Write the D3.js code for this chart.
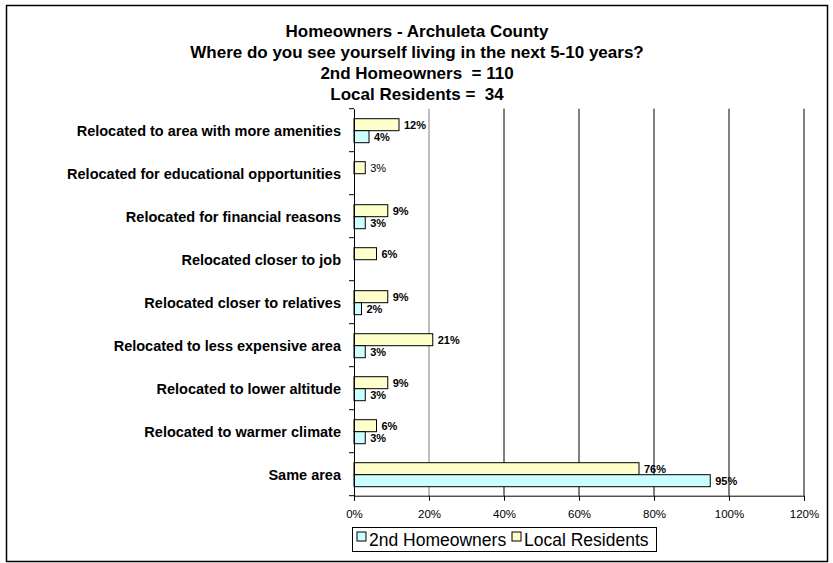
<!DOCTYPE html>
<html>
<head>
<meta charset="utf-8">
<script src="https://cdn.jsdelivr.net/npm/d3@7"></script>
<style>
  body { margin: 0; background: #fff; }
  svg { font-family: Arial, "Liberation Sans", sans-serif; }
</style>
</head>
<body>
<div id="chart"></div>
<script>
// Données du graphique
const categories = [
    'Relocated to area with more amenities',
    'Relocated for educational opportunities',
    'Relocated for financial reasons',
    'Relocated closer to job',
    'Relocated closer to relatives',
    'Relocated to less expensive area',
    'Relocated to lower altitude',
    'Relocated to warmer climate',
    'Same area'
];
const secondHomeowners = [4, 0, 3, 0, 2, 3, 3, 3, 95];
const localResidents = [12, 3, 9, 6, 9, 21, 9, 6, 76];
const xTicks = [0, 20, 40, 60, 80, 100, 120];
const titleLines = [
    'Homeowners - Archuleta County',
    'Where do you see yourself living in the next 5-10 years?',
    '2nd Homeowners  = 110',
    'Local Residents =  34'
];
const seriesNames = ['2nd Homeowners', 'Local Residents'];

const width = 833, height = 563;
const margin = { top: 108.7, right: 29, bottom: 67.3, left: 354 };
const colors = { local: '#FFFFCC', second: '#CCFFFF' };

const svg = d3.select('#chart').append('svg')
    .attr('width', width)
    .attr('height', height);

// Cadre extérieur
svg.append('rect')
    .attr('x', 6.5).attr('y', 5.5)
    .attr('width', 821).attr('height', 556)
    .attr('fill', '#fff')
    .attr('stroke', '#000')
    .attr('stroke-width', 1.5);

// Titre
svg.append('g').selectAll('text')
    .data(titleLines)
    .enter().append('text')
    .attr('x', 417)
    .attr('y', (d, i) => 36.7 + i * 21.1)
    .attr('text-anchor', 'middle')
    .style('font-size', '17px')
    .style('font-weight', 'bold')
    .style('white-space', 'pre')
    .text(d => d);

// Échelles
const x = d3.scaleLinear()
    .domain([0, 120])
    .range([margin.left, width - margin.right]);

const y = d3.scaleBand()
    .domain(categories)
    .range([margin.top, height - margin.bottom]);

const inner = d3.scaleBand()
    .domain(['local', 'second'])
    .range([0, 24]);

// Grille verticale
svg.append('g')
    .selectAll('line')
    .data(xTicks.filter(t => t > 0))
    .enter().append('line')
    .attr('x1', d => x(d)).attr('x2', d => x(d))
    .attr('y1', margin.top).attr('y2', height - margin.bottom)
    .attr('stroke', d => d === 20 ? '#808080' : '#000')
    .attr('stroke-width', 1);

// Barres
const groupOffset = (y.bandwidth() - 24) / 2 + 0.5;
const series = [
    { key: 'local', values: localResidents },
    { key: 'second', values: secondHomeowners }
];

const plainLabels = new Set(['Relocated for educational opportunities']);

series.forEach(s => {
    const rows = categories.map((c, i) => ({ cat: c, v: s.values[i] })).filter(d => d.v > 0);
    const g = svg.append('g');
    g.selectAll('rect')
        .data(rows)
        .enter().append('rect')
        .attr('x', x(0))
        .attr('y', d => y(d.cat) + groupOffset + inner(s.key))
        .attr('width', d => x(d.v) - x(0))
        .attr('height', inner.bandwidth())
        .attr('fill', colors[s.key])
        .attr('stroke', '#000')
        .attr('stroke-width', 1);

    g.selectAll('text')
        .data(rows)
        .enter().append('text')
        .attr('x', d => x(d.v) + 5)
        .attr('y', d => y(d.cat) + groupOffset + inner(s.key) + inner.bandwidth() / 2)
        .attr('dy', '0.36em')
        .style('font-size', '11px')
        .style('font-weight', d => plainLabels.has(d.cat) ? 'normal' : 'bold')
        .text(d => d.v + '%');
});

// Axe X
const xAxis = svg.append('g')
    .attr('transform', `translate(0,${height - margin.bottom})`)
    .call(d3.axisBottom(x).tickValues(xTicks).tickFormat(d => d + '%').tickSize(5).tickPadding(9));
xAxis.select('.domain').attr('stroke', '#000');
xAxis.selectAll('text').style('font-size', '11.5px').attr('fill', '#000');

// Axe Y
const yAxis = svg.append('g')
    .attr('transform', `translate(${margin.left},0)`)
    .call(d3.axisLeft(y).tickSize(0).tickPadding(13));
yAxis.select('.domain').attr('stroke', '#000');
yAxis.selectAll('text')
    .attr('dy', '0.42em')
    .style('font-size', '14.5px')
    .style('font-weight', 'bold')
    .attr('fill', '#000');

// Petits traits entre catégories
svg.append('g').selectAll('line')
    .data(d3.range(categories.length + 1))
    .enter().append('line')
    .attr('x1', margin.left - 5).attr('x2', margin.left)
    .attr('y1', i => margin.top + i * y.step())
    .attr('y2', i => margin.top + i * y.step())
    .attr('stroke', '#000');

// Légende
const legend = svg.append('g').attr('transform', 'translate(352.5,527.5)');
legend.append('rect')
    .attr('width', 304).attr('height', 24)
    .attr('fill', '#fff').attr('stroke', '#000');

const legendItems = [
    { name: seriesNames[0], color: colors.second, x: 4.5 },
    { name: seriesNames[1], color: colors.local, x: 159.5 }
];
legendItems.forEach(item => {
    legend.append('rect')
        .attr('x', item.x).attr('y', 4.5)
        .attr('width', 9).attr('height', 9)
        .attr('fill', item.color).attr('stroke', '#000');
    legend.append('text')
        .attr('x', item.x + 12).attr('y', 18.5)
        .style('font-size', '17.5px')
        .text(item.name);
});
</script>
</body>
</html>
